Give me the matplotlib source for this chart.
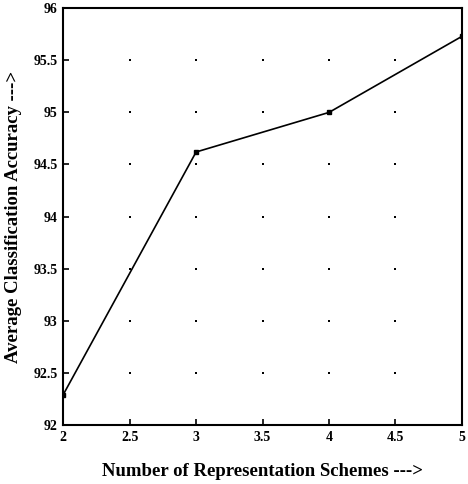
import matplotlib
matplotlib.use("Agg")
from matplotlib import pyplot as plt

schemes = [2, 3, 4, 5]
accuracy = [92.29, 94.62, 95.0, 95.73]
xticks = [2, 2.5, 3, 3.5, 4, 4.5, 5]
yticks = [92, 92.5, 93, 93.5, 94, 94.5, 95, 95.5, 96]

plt.rcParams['font.family'] = ['Liberation Serif', 'DejaVu Serif']

fig = plt.figure(figsize=(4.68, 4.84), dpi=100)
ax = fig.add_axes([0.135, 0.122, 0.852, 0.861])

# sparse dotted grid: dots only at tick crossings
gx = [x for x in xticks[1:-1] for y in yticks[1:-1]]
gy = [y for x in xticks[1:-1] for y in yticks[1:-1]]
ax.scatter(gx, gy, s=2, color='black', marker='s', linewidths=0)

ax.plot(schemes, accuracy, color='black', linewidth=1.2,
        marker='s', markersize=2.5)
ax.set_xlim(2, 5)
ax.set_ylim(92, 96)
ax.set_xticks(xticks)
ax.set_xticklabels(['2', '2.5', '3', '3.5', '4', '4.5', '5'])
ax.set_yticks(yticks)
ax.set_yticklabels(['92', '92.5', '93', '93.5', '94', '94.5', '95', '95.5', '96'])
ax.tick_params(direction='in', length=4, width=1.2, labelsize=10, pad=4)
for lbl in ax.get_xticklabels() + ax.get_yticklabels():
    lbl.set_fontweight('bold')
for s in ax.spines.values():
    s.set_linewidth(1.5)
ax.set_xlabel("Number of Representation Schemes --->", fontsize=13.5,
              fontweight='bold', labelpad=14)
ax.set_ylabel("Average Classification Accuracy --->", fontsize=13.5,
              fontweight='bold', labelpad=8)
fig.savefig("out.png", dpi=100)
